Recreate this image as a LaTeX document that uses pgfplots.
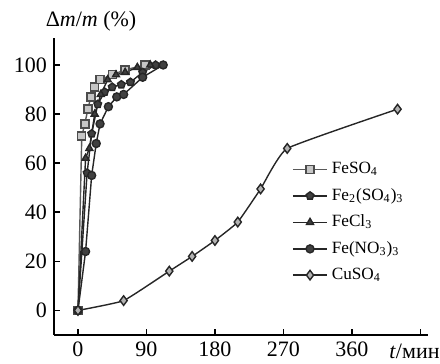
\documentclass[border=0pt]{standalone}
\usepackage{fontspec}
\setmainfont{Liberation Serif}
\usepackage{pgfplots}
\pgfplotsset{compat=1.18}
\begin{document}
\begin{tikzpicture}
\begin{axis}[
  scale only axis,
  width=187pt, height=148.5pt,
  xmin=-31.5, xmax=460, ymin=-10, ymax=111,
  axis x line=bottom, axis y line=left,
  axis line style={-, line width=0.9pt},
  tick style={line width=0.8pt, black},
  tick align=inside,
  major tick length=3pt,
  xtick={0,90,180,270,360,450},
  xticklabels={0,90,180,270,360,{}},
  ytick={0,20,40,60,80,100},
  /pgf/number format/assume math mode=true,
  ticklabel style={font=\fontsize{11}{13}\selectfont},
  clip=false,
  legend style={at={(rel axis cs:0.636,0.596)}, anchor=north west, draw=none, fill=none,
    font=\fontsize{8.6}{10}\selectfont, row sep=1.8pt, inner sep=0pt},
  legend cell align=left,
  every axis plot/.append style={line width=0.7pt, mark size=2pt},
]
\addplot[gray!70!black, mark=square*, mark options={fill=gray!45, draw=gray!60!black}] coordinates {
(0,0)(5,71)(9,76)(13,82)(17,87)(22,91)(29,94)(45,96)(62,98)(88,100)};
\addlegendentry{FeSO\textsubscript{4}}
\addplot[black!85, mark=pentagon*, mark options={fill=black!75}] coordinates {
(0,0)(12,56)(18,72)(26,84)(35,89)(45,91)(57,92)(69,93)(85,97)(102,100)};
\addlegendentry{Fe\textsubscript{2}(SO\textsubscript{4})\textsubscript{3}}
\addplot[black!85, mark=triangle*, mark options={fill=black!75}] coordinates {
(0,0)(10,62)(15,66)(22,80)(30,88)(39,94)(50,96)(62,97)(78,99)(95,100)};
\addlegendentry{FeCl\textsubscript{3}}
\addplot[black!85, mark=*, mark options={fill=black!75}] coordinates {
(0,0)(10,24)(18,55)(24,68)(29,76)(40,83)(51,87)(60,88)(85,95)(112,100)};
\addlegendentry{Fe(NO\textsubscript{3})\textsubscript{3}}
\addplot[black!85, smooth, tension=0.22, mark=diamond*, mark options={fill=gray!60, draw=black!85}, mark size=2.4pt] coordinates {
(0,0)(60,4)(120,16)(150,22)(180,28.5)(210,36)(240,49.5)(275,66)(420,82)};
\addlegendentry{CuSO\textsubscript{4}}
\node[anchor=base, font=\fontsize{11}{13}\selectfont] at (rel axis cs:0.099,1.04) {Δ\textit{m}/\textit{m} (\%)};
\node[anchor=base east, font=\fontsize{11}{13}\selectfont, inner sep=0pt] at (rel axis cs:1.032,-0.078) {\textit{t}/мин};
\coordinate (bl) at (rel axis cs:-0.1444,-0.0976);
\coordinate (tr) at (rel axis cs:1.0321,1.1279);
\end{axis}
\pgfresetboundingbox
\path[use as bounding box] (bl) rectangle (tr);
\end{tikzpicture}
\end{document}
